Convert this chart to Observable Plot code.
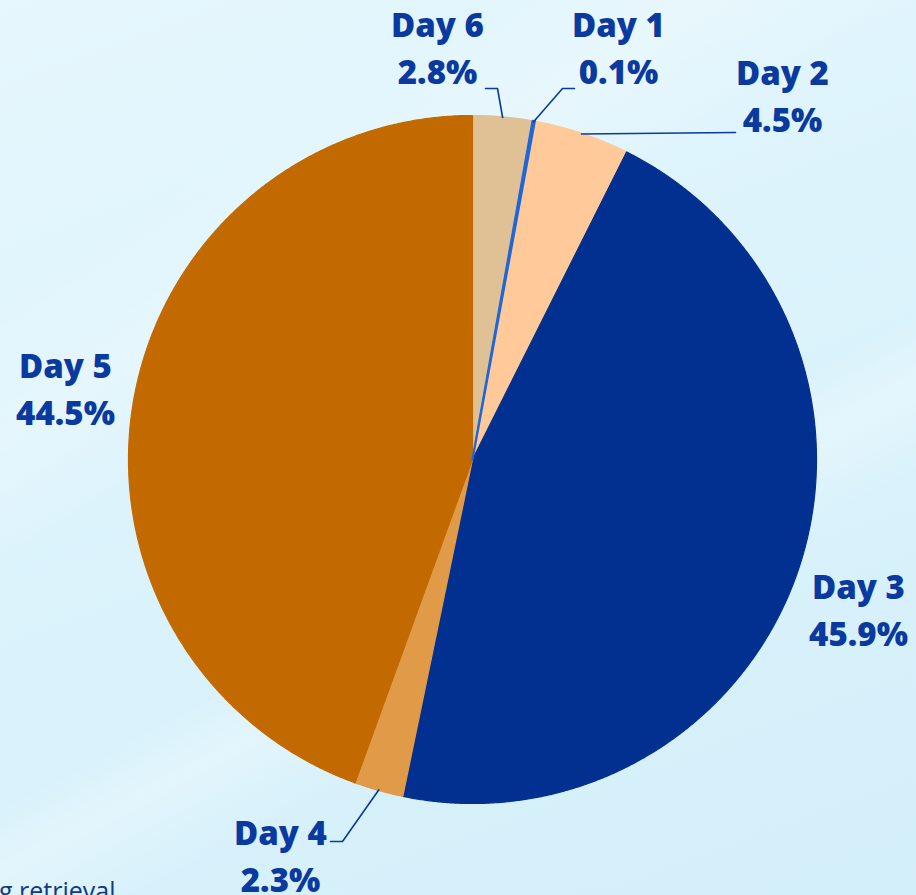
<!DOCTYPE html>
<html>
<head>
<meta charset="utf-8">
<script src="https://cdn.jsdelivr.net/npm/d3@7"></script>
<script src="https://cdn.jsdelivr.net/npm/@observablehq/plot@0.6"></script>
<style>
  html, body { margin: 0; padding: 0; width: 916px; height: 895px; overflow: hidden; }
  body {
    background:
      linear-gradient(152deg, rgba(255,255,255,0) 0%, rgba(255,255,255,0) 58%, rgba(255,255,255,0.28) 63%, rgba(255,255,255,0) 70%),
      linear-gradient(148deg, rgba(255,255,255,0) 20%, rgba(255,255,255,0.22) 30%, rgba(255,255,255,0) 40%),
      linear-gradient(160deg, #e6f7fd 0%, #dcf3fc 45%, #d3effa 100%);
  }
  #chart { position: absolute; left: 0; top: 0; }
</style>
</head>
<body>
<div id="chart"></div>
<script>
// ---- data ----
const days   = ["Day 1", "Day 2", "Day 3", "Day 4", "Day 5", "Day 6"];
const shares = [0.1, 4.5, 45.9, 2.3, 44.5, 2.8];           // percent
const labels = ["0.1%", "4.5%", "45.9%", "2.3%", "44.5%", "2.8%"];
const clockwiseOrder = ["Day 6", "Day 1", "Day 2", "Day 3", "Day 4", "Day 5"]; // from 12 o'clock
const sliceColors = ["#1f66d6", "#ffc999", "#023090", "#e09a48", "#c26a00", "#e0c095"];
const captionText = "g retrieval";

// ---- layout ----
const W = 916, H = 895;
const CX = 472, CY = 459, R = 344;
const ink = "#0a3a9f";
// label anchor (pixel) and leader elbow/end points (pixel)
const labelLayout = {
  "Day 6": {lx: 437, ly: 45,  leader: [[497, 88], [485, 88]]},
  "Day 1": {lx: 618, ly: 45,  leader: [[562, 88], [574, 88]]},
  "Day 2": {lx: 782, ly: 93,  leader: [[735, 132]]},
  "Day 3": {lx: 858, ly: 607, leader: null},
  "Day 4": {lx: 280, ly: 853, leader: [[342, 841], [330, 841]]},
  "Day 5": {lx: 65,  ly: 386, leader: null}
};
const ux = px => (px - CX) / R;
const uy = py => (CY - py) / R;

// ---- pie geometry from the data ----
const total = d3.sum(shares);
const valueOf = Object.fromEntries(days.map((d, i) => [d, shares[i]]));
const labelOf = Object.fromEntries(days.map((d, i) => [d, labels[i]]));
let acc = 0;
const slices = clockwiseOrder.map(day => {
  const a0 = acc / total * 2 * Math.PI;
  acc += valueOf[day];
  const a1 = acc / total * 2 * Math.PI;
  return {day, a0, a1, mid: (a0 + a1) / 2};
});
const polyPts = [];
for (const s of slices) {
  polyPts.push({day: s.day, x: 0, y: 0});
  const n = Math.max(2, Math.ceil((s.a1 - s.a0) / (Math.PI / 720)));
  for (let k = 0; k <= n; k++) {
    const a = s.a0 + (s.a1 - s.a0) * k / n;
    polyPts.push({day: s.day, x: Math.sin(a), y: Math.cos(a)});
  }
  polyPts.push({day: s.day, x: 0, y: 0});
}
// thinnest slice is emphasised with a wider outline so it stays visible
const thinDay = clockwiseOrder.reduce((a, b) => (valueOf[a] <= valueOf[b] ? a : b));
const thinPts = polyPts.filter(p => p.day === thinDay);

const leaderPts = [];
for (const s of slices) {
  const L = labelLayout[s.day];
  if (!L.leader) continue;
  leaderPts.push({day: s.day, x: Math.sin(s.mid) * 0.998, y: Math.cos(s.mid) * 0.998});
  for (const [px, py] of L.leader) leaderPts.push({day: s.day, x: ux(px), y: uy(py)});
}
const labelRows = days.map(d => ({day: d, text: d + "\n" + labelOf[d], x: ux(labelLayout[d].lx), y: uy(labelLayout[d].ly)}));

const chart = Plot.plot({
  width: W, height: H,
  margin: 0,
  style: {background: "transparent", overflow: "visible"},
  x: {domain: [ux(0), ux(W)], range: [0, W], axis: null},
  y: {domain: [uy(0), uy(H)], range: [0, H], axis: null},
  color: {domain: days, range: sliceColors},
  marks: [
    Plot.line(polyPts, {x: "x", y: "y", z: "day", fill: "day", stroke: "day", strokeWidth: 1.2, curve: "linear"}),
    Plot.line(thinPts, {x: "x", y: "y", z: "day", fill: "day", stroke: "day", strokeWidth: 2.2, strokeLinejoin: "round", curve: "linear"}),
    Plot.line(leaderPts, {x: "x", y: "y", z: "day", stroke: ink, strokeWidth: 1.6, curve: "linear"}),
    Plot.text(labelRows, {
      x: "x", y: "y", text: "text", fill: ink, textAnchor: "middle", lineAnchor: "middle",
      lineHeight: 1.42, fontSize: 33, fontWeight: 800, fontFamily: "Open Sans"
    }),
    Plot.text([captionText], {
      x: () => ux(115), y: () => uy(899), text: d => d, textAnchor: "end", lineAnchor: "bottom",
      fill: "#0f3a86", fontSize: 25, fontFamily: "Open Sans"
    })
  ]
});
document.getElementById("chart").appendChild(chart);
</script>
</body>
</html>
